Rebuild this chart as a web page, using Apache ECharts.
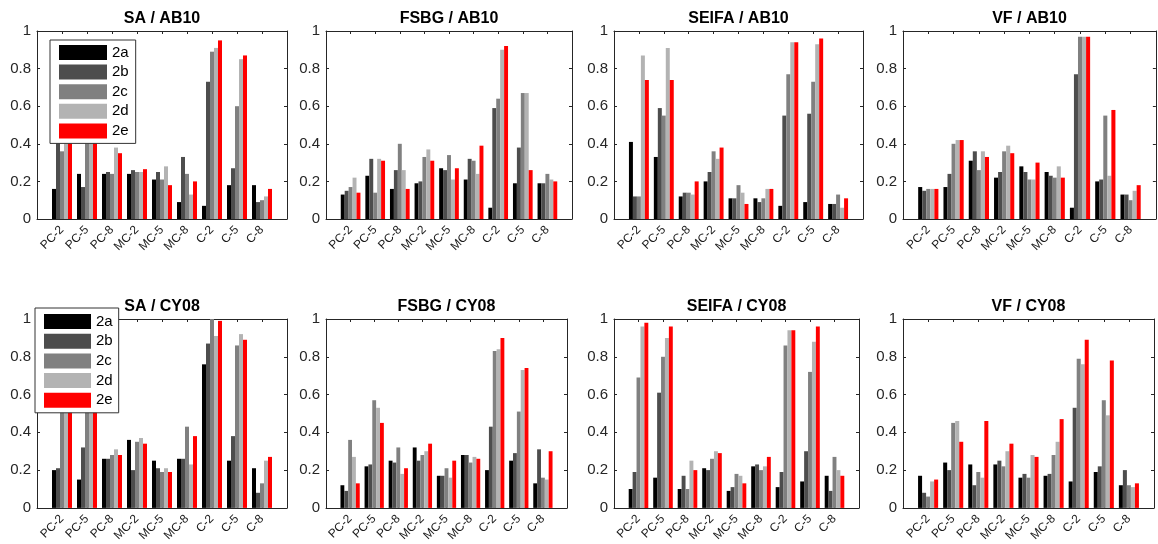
<!DOCTYPE html>
<html>
<head>
<meta charset="utf-8">
<script src="https://cdn.jsdelivr.net/npm/echarts@6/dist/echarts.min.js"></script>
<style>
html,body{margin:0;padding:0;background:#fff;}
#chart{width:1158px;height:544px;}
</style>
</head>
<body>
<div id="chart"></div>
<script>
// ---------- data ----------
const categories = ['PC-2','PC-5','PC-8','MC-2','MC-5','MC-8','C-2','C-5','C-8'];
const seriesNames = ['2a','2b','2c','2d','2e'];
const yTicks = [0, 0.2, 0.4, 0.6, 0.8, 1];
const panelTitles = ['SA / AB10','FSBG / AB10','SEIFA / AB10','VF / AB10',
                     'SA / CY08','FSBG / CY08','SEIFA / CY08','VF / CY08'];

// each panel: values per series (2a..2e), one entry per category
const SA_AB10_2a = [0.16,0.24,0.24,0.24,0.21,0.09,0.07,0.18,0.18];
const SA_AB10_2b = [0.42,0.17,0.25,0.26,0.25,0.33,0.73,0.27,0.09];
const SA_AB10_2c = [0.36,0.45,0.24,0.25,0.21,0.24,0.89,0.60,0.10];
const SA_AB10_2d = [0.45,0.47,0.38,0.25,0.28,0.13,0.91,0.85,0.12];
const SA_AB10_2e = [0.44,0.43,0.35,0.265,0.18,0.20,0.95,0.87,0.16];

const FSBG_AB10_2a = [0.13,0.23,0.16,0.19,0.27,0.21,0.06,0.19,0.19];
const FSBG_AB10_2b = [0.15,0.32,0.26,0.20,0.26,0.32,0.59,0.38,0.19];
const FSBG_AB10_2c = [0.17,0.14,0.40,0.33,0.34,0.31,0.64,0.67,0.24];
const FSBG_AB10_2d = [0.22,0.32,0.26,0.37,0.21,0.24,0.90,0.67,0.21];
const FSBG_AB10_2e = [0.14,0.31,0.16,0.31,0.27,0.39,0.92,0.26,0.20];

const SEIFA_AB10_2a = [0.41,0.33,0.12,0.20,0.11,0.11,0.07,0.09,0.08];
const SEIFA_AB10_2b = [0.12,0.59,0.14,0.25,0.11,0.09,0.55,0.56,0.08];
const SEIFA_AB10_2c = [0.12,0.55,0.14,0.36,0.18,0.11,0.77,0.73,0.13];
const SEIFA_AB10_2d = [0.87,0.91,0.13,0.32,0.14,0.16,0.94,0.93,0.06];
const SEIFA_AB10_2e = [0.74,0.74,0.20,0.38,0.08,0.16,0.94,0.96,0.11];

const VF_AB10_2a = [0.17,0.17,0.31,0.22,0.28,0.25,0.06,0.20,0.13];
const VF_AB10_2b = [0.15,0.24,0.36,0.25,0.25,0.23,0.77,0.21,0.13];
const VF_AB10_2c = [0.16,0.40,0.26,0.36,0.21,0.22,0.97,0.55,0.10];
const VF_AB10_2d = [0.16,0.42,0.36,0.39,0.21,0.28,0.97,0.23,0.15];
const VF_AB10_2e = [0.16,0.42,0.33,0.35,0.30,0.22,0.97,0.58,0.18];

const SA_CY08_2a = [0.20,0.15,0.26,0.36,0.25,0.26,0.76,0.25,0.21];
const SA_CY08_2b = [0.21,0.32,0.26,0.20,0.21,0.26,0.87,0.38,0.08];
const SA_CY08_2c = [0.62,0.58,0.28,0.35,0.19,0.43,1.00,0.86,0.13];
const SA_CY08_2d = [0.60,0.66,0.31,0.37,0.21,0.23,0.91,0.92,0.25];
const SA_CY08_2e = [0.58,0.62,0.28,0.34,0.19,0.38,0.99,0.89,0.27];

const FSBG_CY08_2a = [0.12,0.22,0.25,0.32,0.17,0.28,0.20,0.25,0.13];
const FSBG_CY08_2b = [0.09,0.23,0.24,0.25,0.17,0.28,0.43,0.29,0.31];
const FSBG_CY08_2c = [0.36,0.57,0.32,0.28,0.21,0.24,0.83,0.51,0.16];
const FSBG_CY08_2d = [0.27,0.53,0.18,0.30,0.16,0.27,0.84,0.73,0.15];
const FSBG_CY08_2e = [0.13,0.45,0.21,0.34,0.25,0.26,0.90,0.74,0.30];

const SEIFA_CY08_2a = [0.10,0.16,0.10,0.21,0.09,0.22,0.11,0.14,0.17];
const SEIFA_CY08_2b = [0.19,0.61,0.17,0.20,0.11,0.23,0.19,0.30,0.09];
const SEIFA_CY08_2c = [0.69,0.80,0.10,0.26,0.18,0.20,0.86,0.72,0.27];
const SEIFA_CY08_2d = [0.96,0.90,0.25,0.30,0.17,0.22,0.94,0.88,0.20];
const SEIFA_CY08_2e = [0.98,0.96,0.20,0.29,0.13,0.27,0.94,0.96,0.17];

const VF_CY08_2a = [0.17,0.24,0.23,0.23,0.16,0.17,0.14,0.19,0.12];
const VF_CY08_2b = [0.08,0.20,0.12,0.25,0.18,0.18,0.53,0.22,0.20];
const VF_CY08_2c = [0.06,0.45,0.19,0.22,0.16,0.28,0.79,0.57,0.12];
const VF_CY08_2d = [0.14,0.46,0.16,0.30,0.28,0.35,0.76,0.49,0.11];
const VF_CY08_2e = [0.15,0.35,0.46,0.34,0.27,0.47,0.89,0.78,0.13];

const panelData = [
  [SA_AB10_2a,SA_AB10_2b,SA_AB10_2c,SA_AB10_2d,SA_AB10_2e],
  [FSBG_AB10_2a,FSBG_AB10_2b,FSBG_AB10_2c,FSBG_AB10_2d,FSBG_AB10_2e],
  [SEIFA_AB10_2a,SEIFA_AB10_2b,SEIFA_AB10_2c,SEIFA_AB10_2d,SEIFA_AB10_2e],
  [VF_AB10_2a,VF_AB10_2b,VF_AB10_2c,VF_AB10_2d,VF_AB10_2e],
  [SA_CY08_2a,SA_CY08_2b,SA_CY08_2c,SA_CY08_2d,SA_CY08_2e],
  [FSBG_CY08_2a,FSBG_CY08_2b,FSBG_CY08_2c,FSBG_CY08_2d,FSBG_CY08_2e],
  [SEIFA_CY08_2a,SEIFA_CY08_2b,SEIFA_CY08_2c,SEIFA_CY08_2d,SEIFA_CY08_2e],
  [VF_CY08_2a,VF_CY08_2b,VF_CY08_2c,VF_CY08_2d,VF_CY08_2e]
];

// ---------- style / layout ----------
const colors = ['#000000','#4d4d4d','#808080','#b3b3b3','#ff0000'];
const FONT = '"Liberation Sans", Arial, Helvetica, sans-serif';
const INK = '#262626';
const grids = [
  {left:37, top:31, width:250, height:188},
  {left:326, top:31, width:246, height:188},
  {left:614, top:31, width:249, height:188},
  {left:903, top:31, width:253, height:188},
  {left:37, top:319, width:250, height:190},
  {left:326, top:319, width:241, height:190},
  {left:614, top:319, width:245, height:190},
  {left:903, top:319, width:251, height:190}
];
const titleY = [19,19,19,19,307,307,307,307];

// padded category axis: empty slot at each end -> xlim [0,10]
const axisCats = [''].concat(categories, ['']);
const tickInterval = (i) => i > 0 && i < axisCats.length - 1;

const option = {
  animation: false,
  backgroundColor: '#ffffff',
  textStyle: {fontFamily: FONT},
  grid: grids.map(g => Object.assign({containLabel:false}, g)),
  xAxis: [],
  yAxis: [],
  series: [],
  legend: [],
  graphic: []
};

grids.forEach((g, p) => {
  option.xAxis.push({
    type:'category', gridIndex:p, data:axisCats, boundaryGap:false, position:'bottom',
    axisLine:{show:true, lineStyle:{color:INK, width:1}},
    axisTick:{show:true, inside:true, length:3, interval:tickInterval, lineStyle:{color:INK}},
    axisLabel:{show:true, interval:0, rotate:45, margin:9, fontSize:12, color:'#1a1a1a', fontFamily:FONT},
    splitLine:{show:false}
  });
  option.xAxis.push({
    type:'category', gridIndex:p, data:axisCats, boundaryGap:false, position:'top',
    axisLine:{show:true, onZero:false, lineStyle:{color:INK, width:1}},
    axisTick:{show:true, inside:true, length:3, interval:tickInterval, lineStyle:{color:INK}},
    axisLabel:{show:false}, splitLine:{show:false}
  });
  option.yAxis.push({
    type:'value', gridIndex:p, min:0, max:1, interval:0.2, position:'left',
    axisLine:{show:true, lineStyle:{color:INK, width:1}},
    axisTick:{show:true, inside:true, length:3, lineStyle:{color:INK}},
    axisLabel:{show:true, margin:6, fontSize:15, color:INK, fontFamily:FONT,
      formatter:(v) => { const t = yTicks.find(x => Math.abs(x - v) < 1e-9); return t === undefined ? '' : String(t); }},
    splitLine:{show:false}
  });
  option.yAxis.push({
    type:'value', gridIndex:p, min:0, max:1, interval:0.2, position:'right',
    axisLine:{show:true, onZero:false, lineStyle:{color:INK, width:1}},
    axisTick:{show:true, inside:true, length:3, lineStyle:{color:INK}},
    axisLabel:{show:false}, splitLine:{show:false}
  });
  panelData[p].forEach((vals, s) => {
    option.series.push({
      type:'bar', name:seriesNames[s],
      xAxisIndex:p*2, yAxisIndex:p*2,
      data:[null].concat(vals, [null]),
      itemStyle:{color:colors[s]},
      barGap:'0%', barCategoryGap:'20%',
      emphasis:{disabled:true}
    });
  });
  option.graphic.push({
    type:'text',
    x:g.left + g.width/2, y:titleY[p],
    style:{text:panelTitles[p], x:0, y:0, align:'center', verticalAlign:'middle',
           font:'bold 16px ' + FONT, fill:'#000'},
    z:10
  });
});

const legendBase = {
  data: seriesNames, orient:'vertical', icon:'rect',
  itemHeight:15, backgroundColor:'#ffffff', borderColor:'#333333', borderWidth:1,
  borderRadius:0, selectedMode:false, z:20,
  textStyle:{fontSize:15, color:'#000', fontFamily:FONT, lineHeight:15},
  itemStyle:{borderWidth:0}
};
option.legend.push(Object.assign({}, legendBase, {
  left:50, top:40, itemWidth:48, itemGap:4.6, padding:[5,7,5,9]
}));
option.legend.push(Object.assign({}, legendBase, {
  left:35, top:308, itemWidth:47, itemGap:4.7, padding:[6,6,5,9]
}));

const chart = echarts.init(document.getElementById('chart'), null, {renderer:'canvas'});
chart.setOption(option);
</script>
</body>
</html>
